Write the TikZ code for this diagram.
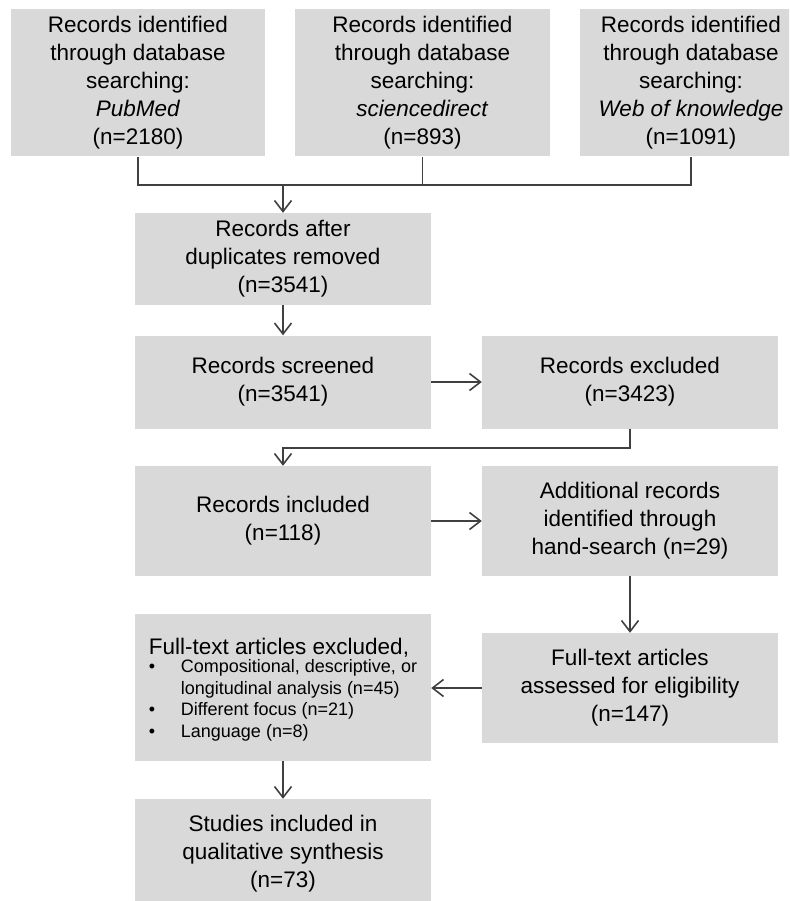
\documentclass[tikz,border=0pt]{standalone}
\usepackage{fontspec}
\setmainfont{Liberation Sans}
\usetikzlibrary{arrows.meta}
\definecolor{boxgray}{RGB}{217,217,217}
\definecolor{linegray}{RGB}{64,64,64}
\newcommand{\boxfont}{\fontsize{22.5}{28}\selectfont}
\newcommand{\listfont}{\fontsize{18}{21.5}\selectfont}

\begin{document}
\begin{tikzpicture}[x=1pt, y=-1pt,
	box/.style={fill=boxgray, inner sep=0pt, minimum width=296pt, align=center, font=\boxfont},
	conn/.style={draw=linegray, line width=1.6pt},
	arr/.style={conn, -{Straight Barb[length=11pt, width=17pt, line width=1.6pt]}}]
	\clip (0,0) rectangle (789,901);
	\def\colL{283}
	\def\colR{630}
	
	%Datenbanken
	\node[box, minimum width=254pt, minimum height=147pt] (pubmed) at (138,83)
		{Records identified\\through database\\searching:\\\textit{PubMed}\\(n=2180)};
	\node[box, minimum width=255pt, minimum height=147pt] (scidir) at (422.5,83)
		{Records identified\\through database\\searching:\\\textit{sciencedirect}\\(n=893)};
	\node[box, minimum width=222pt, minimum height=147pt] (wok) at (691,83)
		{Records identified\\through database\\searching:\\\textit{Web of knowledge}\\(n=1091)};
	
	%linke Spalte
	\node[box, minimum height=92pt] (dupl) at (\colL,259) {Records after\\duplicates removed\\(n=3541)};
	\node[box, minimum height=93pt] (screen) at (\colL,382) {Records screened\\(n=3541)};
	\node[box, minimum height=110pt] (incl) at (\colL,521) {Records included\\(n=118)};
	\node[box, minimum height=147pt, align=left] (ftexcl) at (\colL,687.5)
		{Full-text articles excluded,\\[-1pt]
		{\listfont\begin{tabular}{@{}p{32pt}@{}l@{}}
			\textbullet & Compositional, descriptive, or\\
			 & longitudinal analysis (n=45)\\
			\textbullet & Different focus (n=21)\\
			\textbullet & Language (n=8)
		\end{tabular}}\\[-8pt]\mbox{}};
	\node[box, minimum height=110pt] (synth) at (\colL,854) {Studies included in\\qualitative synthesis\\(n=73)};
	
	%rechte Spalte
	\node[box, minimum height=93pt] (excl) at (\colR,382) {Records excluded\\(n=3423)};
	\node[box, minimum height=110pt] (hand) at (\colR,521) {Additional records\\identified through\\hand-search (n=29)};
	\node[box, minimum height=110pt] (ftass) at (\colR,688) {Full-text articles\\assessed for eligibility\\(n=147)};
	
	%Verbindungen
	\coordinate (merge) at (\colL,185);
	\draw[conn] (pubmed.south) |- (wok.south |- merge) -- (wok.south);
	\draw[conn] (scidir.south) -- (scidir.south |- merge);
	\draw[arr] (merge) -- (dupl.north);
	\draw[arr] (dupl) -- (screen);
	\draw[arr] (screen) -- (excl);
	\draw[arr] (excl.south) -- ++(0,19) -| (incl.north);
	\draw[arr] (incl) -- (hand);
	\draw[arr] (hand) -- (ftass);
	\draw[arr] (ftass.west) -- (ftexcl.east |- ftass.west);
	\draw[arr] (ftexcl) -- (synth);
\end{tikzpicture}
\end{document}
